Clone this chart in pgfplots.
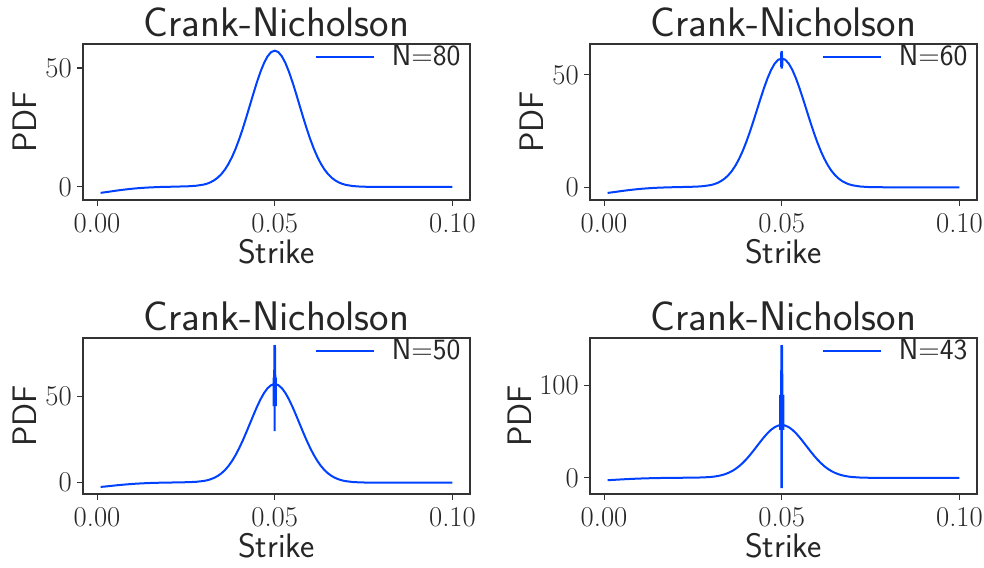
\documentclass[border=0pt]{standalone}
\usepackage{fontspec}
\usepackage{pgfplots}
\usepackage{pgfplotstable}
\pgfplotsset{compat=1.18}
\definecolor{cnblue}{RGB}{0,64,255}
\definecolor{txt}{RGB}{38,38,38}

% N=80
\pgfplotstableread{
x y
0.001 -2.50
0.003 -2.10
0.005 -1.65
0.007 -1.25
0.009 -0.90
0.011 -0.60
0.013 -0.38
0.015 -0.20
0.018 -0.02
0.021 0.08
0.024 0.20
0.026 0.29
0.028 0.51
0.030 0.98
0.031 1.39
0.032 2.00
0.033 2.83
0.034 3.95
0.035 5.42
0.036 7.31
0.037 9.71
0.038 12.63
0.039 16.08
0.040 20.05
0.041 24.47
0.042 29.26
0.043 34.25
0.044 39.26
0.045 44.07
0.046 48.44
0.047 52.13
0.048 54.94
0.049 56.70
0.050 57.30
0.051 56.70
0.052 54.94
0.053 52.13
0.054 48.44
0.055 44.07
0.056 39.26
0.057 34.25
0.058 29.26
0.059 24.47
0.060 20.05
0.061 16.08
0.062 12.63
0.063 9.71
0.064 7.31
0.065 5.39
0.066 3.90
0.067 2.75
0.068 1.91
0.069 1.29
0.070 0.86
0.072 0.36
0.074 0.14
0.076 0.05
0.078 0.02
0.080 0.00
0.090 0.00
0.100 0.00
}\tA

% N=60
\pgfplotstableread{
x y
0.001 -2.50
0.003 -2.10
0.005 -1.65
0.007 -1.25
0.009 -0.90
0.011 -0.60
0.013 -0.38
0.015 -0.20
0.018 -0.02
0.021 0.08
0.024 0.20
0.026 0.29
0.028 0.51
0.030 0.98
0.031 1.39
0.032 2.00
0.033 2.83
0.034 3.95
0.035 5.42
0.036 7.31
0.037 9.71
0.038 12.63
0.039 16.08
0.040 20.05
0.041 24.47
0.042 29.26
0.043 34.25
0.044 39.26
0.045 44.07
0.046 48.44
0.047 52.13
0.048 54.94
0.049 56.70
0.0498 57.10
0.04985 53.50
0.04985 60.00
0.04995 52.80
0.04995 60.60
0.05005 53.00
0.05005 60.40
0.05015 54.00
0.05015 57.20
0.051 56.70
0.052 54.94
0.053 52.13
0.054 48.44
0.055 44.07
0.056 39.26
0.057 34.25
0.058 29.26
0.059 24.47
0.060 20.05
0.061 16.08
0.062 12.63
0.063 9.71
0.064 7.31
0.065 5.39
0.066 3.90
0.067 2.75
0.068 1.91
0.069 1.29
0.070 0.86
0.072 0.36
0.074 0.14
0.076 0.05
0.078 0.02
0.080 0.00
0.090 0.00
0.100 0.00
}\tB

% N=50
\pgfplotstableread{
x y
0.001 -2.50
0.003 -2.10
0.005 -1.65
0.007 -1.25
0.009 -0.90
0.011 -0.60
0.013 -0.38
0.015 -0.20
0.018 -0.02
0.021 0.08
0.024 0.20
0.026 0.29
0.028 0.51
0.030 0.98
0.031 1.39
0.032 2.00
0.033 2.83
0.034 3.95
0.035 5.42
0.036 7.31
0.037 9.71
0.038 12.63
0.039 16.08
0.040 20.05
0.041 24.47
0.042 29.26
0.043 34.25
0.044 39.26
0.045 44.07
0.046 48.44
0.047 52.13
0.048 54.94
0.049 56.70
0.0497 57.20
0.0497 44.50
0.0497 61.00
0.04985 44.50
0.04985 62.00
0.04993 80.00
0.05000 30.00
0.05000 62.00
0.05007 80.00
0.05015 62.00
0.05015 44.50
0.0503 61.00
0.0503 44.50
0.0503 57.20
0.051 56.70
0.052 54.94
0.053 52.13
0.054 48.44
0.055 44.07
0.056 39.26
0.057 34.25
0.058 29.26
0.059 24.47
0.060 20.05
0.061 16.08
0.062 12.63
0.063 9.71
0.064 7.31
0.065 5.39
0.066 3.90
0.067 2.75
0.068 1.91
0.069 1.29
0.070 0.86
0.072 0.36
0.074 0.14
0.076 0.05
0.078 0.02
0.080 0.00
0.090 0.00
0.100 0.00
}\tC

% N=43
\pgfplotstableread{
x y
0.001 -2.50
0.003 -2.10
0.005 -1.65
0.007 -1.25
0.009 -0.90
0.011 -0.60
0.013 -0.38
0.015 -0.20
0.018 -0.02
0.021 0.08
0.024 0.20
0.026 0.29
0.028 0.51
0.030 0.98
0.031 1.39
0.032 2.00
0.033 2.83
0.034 3.95
0.035 5.42
0.036 7.31
0.037 9.71
0.038 12.63
0.039 16.08
0.040 20.05
0.041 24.47
0.042 29.26
0.043 34.25
0.044 39.26
0.045 44.07
0.046 48.44
0.047 52.13
0.048 54.94
0.049 56.70
0.04955 57.20
0.04955 52.00
0.04955 90.00
0.0498 52.00
0.0498 90.00
0.04993 144.00
0.04993 -10.00
0.05007 -10.00
0.05007 144.00
0.0502 90.00
0.0502 52.00
0.05045 90.00
0.05045 52.00
0.05045 57.20
0.051 56.70
0.052 54.94
0.053 52.13
0.054 48.44
0.055 44.07
0.056 39.26
0.057 34.25
0.058 29.26
0.059 24.47
0.060 20.05
0.061 16.08
0.062 12.63
0.063 9.71
0.064 7.31
0.065 5.39
0.066 3.90
0.067 2.75
0.068 1.91
0.069 1.29
0.070 0.86
0.072 0.36
0.074 0.14
0.076 0.05
0.078 0.02
0.080 0.00
0.090 0.00
0.100 0.00
}\tD

\pgfplotsset{
  cn/.style={
    scale only axis, width=290.25pt, height=117pt,
    anchor=south west,
    xmin=-0.00395, xmax=0.10495,
    xtick={0,0.05,0.1}, xticklabels={0.00,0.05,0.10},
    axis line style={black!80, line width=0.8pt},
    tick style={black!80, line width=0.8pt},
    tick align=outside, major tick length=4.5pt,
    xtick pos=bottom, ytick pos=left,
    ticklabel style={font=\fontsize{21.5}{22}\selectfont, text=txt, inner sep=0pt},
    xticklabel style={anchor=north, yshift=-5.25pt},
    yticklabel style={anchor=east, xshift=-3.75pt},
    title={Crank-Nicholson},
    title style={at={(axis description cs:0.5,1.045)}, anchor=base, yshift=-6pt,
      font=\sffamily\fontsize{31}{32}\selectfont, text=txt},
    xlabel={Strike},
    xlabel style={at={(axis description cs:0.5,-0.41)}, anchor=base,
      font=\sffamily\fontsize{25.5}{27}\selectfont, text=txt},
    ylabel={PDF},
    ylabel style={at={(axis description cs:-0.119,0.5)}, anchor=base,
      font=\sffamily\fontsize{25.5}{27}\selectfont, text=txt},
    legend style={draw=none, fill=none, at={(axis description cs:1,1)},
      anchor=north east, xshift=-2pt, yshift=3pt,
      font=\sffamily\fontsize{22}{24}\selectfont, text=txt,
      /tikz/every odd column/.append style={column sep=11pt}},
    legend image code/.code={\draw[#1] (0pt,0pt) -- (43.5pt,0pt);},
  },
  cnline/.style={cnblue, line width=1.5pt},
}

\begin{document}
\begin{tikzpicture}
\useasboundingbox (0,0) rectangle (738pt,425.25pt);

\begin{axis}[cn, at={(62.25pt,275.25pt)}, ymin=-5.5, ymax=60.1,
  ytick={0,50}, yticklabels={0,50}]
\addplot[cnline] table {\tA};
\addlegendentry{N=80}
\end{axis}

\begin{axis}[cn, at={(442.5pt,275.25pt)}, ymin=-5.65, ymax=63.7,
  ytick={0,50}, yticklabels={0,50}]
\addplot[cnline] table {\tB};
\addlegendentry{N=60}
\end{axis}

\begin{axis}[cn, at={(62.25pt,54.75pt)}, ymin=-6.6, ymax=84.1,
  ytick={0,50}, yticklabels={0,50}]
\addplot[cnline] table {\tC};
\addlegendentry{N=50}
\end{axis}

\begin{axis}[cn, at={(442.5pt,54.75pt)}, ymin=-17.5, ymax=151.7,
  ytick={0,100}, yticklabels={0,100},
  ylabel style={at={(axis description cs:-0.150,0.5)}}]
\addplot[cnline] table {\tD};
\addlegendentry{N=43}
\end{axis}
\end{tikzpicture}
\end{document}
